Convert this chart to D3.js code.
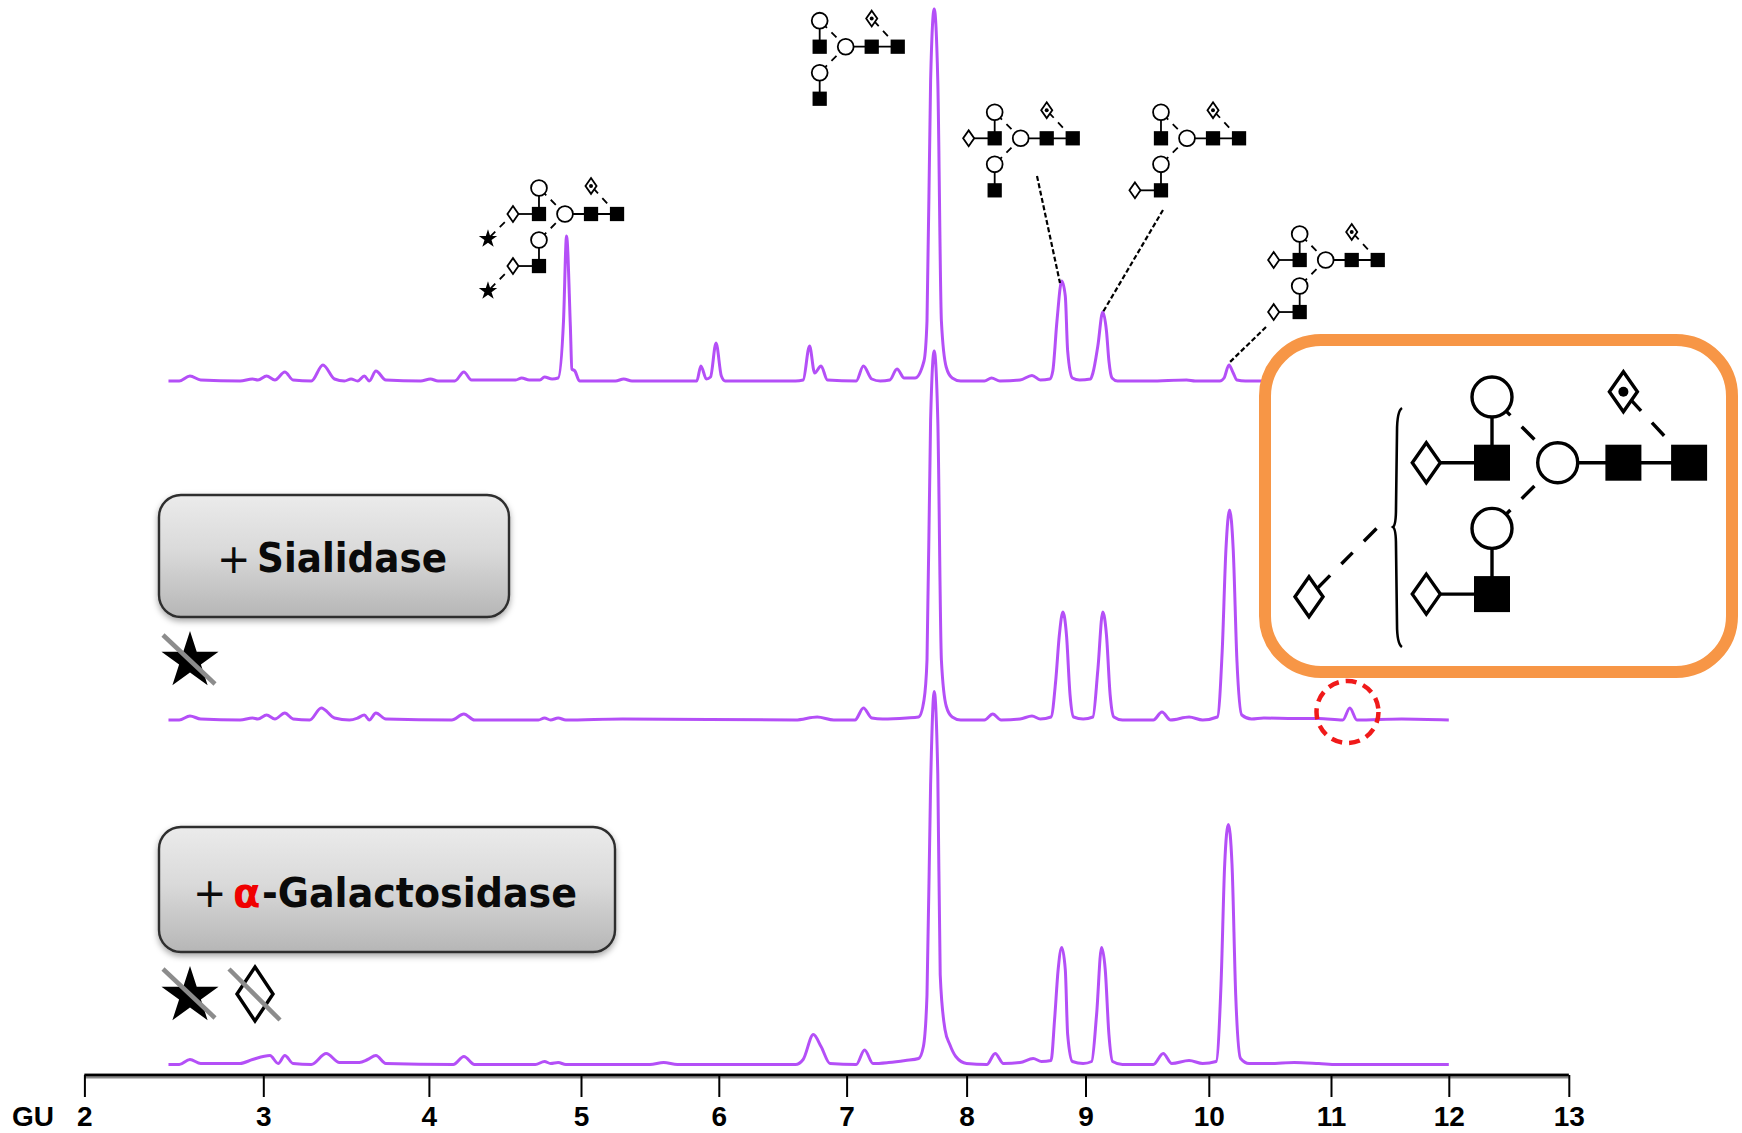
<!DOCTYPE html>
<html>
<head>
<meta charset="utf-8">
<title>GU traces</title>
<script src="https://cdn.jsdelivr.net/npm/d3@7"></script>
<style>
  html, body { margin: 0; background: #fff; }
  svg { display: block; }
  .axis path, .axis line { stroke: #000; }
  .axis text { font: bold 28px "Liberation Sans", sans-serif; fill: #000; }
  .trace { fill: none; stroke: #b450f7; stroke-width: 3; stroke-linejoin: round; }
  .btn-text { font: bold 40px "DejaVu Sans", sans-serif; fill: #0a0a0a; }
</style>
</head>
<body>
<svg id="chart" width="1742" height="1133"></svg>
<script>
// Glucose units on the axis are not evenly spaced
const guTicks = [2, 3, 4, 5, 6, 7, 8, 9, 10, 11, 12, 13];
const guPixels = [84.4, 263.3, 428.9, 581, 718.8, 846.6, 966.6, 1085.5, 1208.8, 1331, 1448.8, 1568.8];
const signalMax = 372;

// Undigested trace
const topGU = [2.47, 2.53, 2.59, 2.65, 2.87, 2.94, 2.97, 3.02, 3.07, 3.13, 3.18, 3.29, 3.36, 3.43, 3.49, 3.53, 3.57, 3.61, 3.64, 3.68, 3.74, 3.95, 4.01, 4.06, 4.17, 4.23, 4.28, 4.57, 4.61, 4.66, 4.73, 4.76, 4.81, 4.85, 4.885, 4.905, 4.93, 4.94, 4.96, 4.99, 5.25, 5.31, 5.37, 5.79, 5.84, 5.87, 5.91, 5.94, 5.98, 6.02, 6.05, 6.6, 6.66, 6.71, 6.75, 6.8, 6.85, 7.08, 7.14, 7.21, 7.28, 7.36, 7.42, 7.48, 7.57, 7.645, 7.67, 7.70, 7.73, 7.76, 7.79, 7.83, 7.88, 7.95, 8.15, 8.21, 8.28, 8.45, 8.55, 8.62, 8.7, 8.725, 8.76, 8.80, 8.83, 8.85, 8.89, 8.95, 9.04, 9.06, 9.10, 9.14, 9.17, 9.19, 9.215, 9.26, 9.52, 9.82, 9.89, 10.09, 10.125, 10.165, 10.2, 10.23, 10.3, 12];
const topSignal = [0, 0, 5, 1, 0, 2, 1, 5, 1, 9, 1, 0, 16, 2, 0, 2, 0, 5, 0, 10, 1, 0, 2, 0, 0, 9, 1, 1, 3, 1, 1, 4, 2, 3, 60, 145, 55, 12, 10, 0, 0, 2, 0, 0, 0, 15, 2, 4, 38, 5, 0, 0, 1, 35, 8, 15, 1, 0, 15, 2, 0, 1, 12, 3, 3, 20, 60, 300, 372, 300, 60, 14, 3, 0, 0, 3, 0, 1, 5.6, 1, 2, 10, 60, 100, 85, 30, 3, 1, 2, 8, 35, 69, 50, 20, 3, 0, 0, 1, 0, 0, 3, 16, 8, 1, 0, 0];

// + Sialidase trace
const midGU = [2.47, 2.53, 2.59, 2.65, 2.87, 2.94, 2.97, 3.02, 3.07, 3.13, 3.18, 3.28, 3.35, 3.43, 3.52, 3.57, 3.61, 3.64, 3.68, 3.74, 4.15, 4.23, 4.3, 4.72, 4.76, 4.8, 4.85, 4.9, 5.3, 6.6, 6.77, 6.9, 7.07, 7.14, 7.21, 7.3, 7.5, 7.6, 7.645, 7.67, 7.70, 7.73, 7.76, 7.79, 7.83, 7.88, 7.95, 8.15, 8.22, 8.29, 8.45, 8.55, 8.62, 8.71, 8.75, 8.78, 8.81, 8.84, 8.87, 8.9, 8.98, 9.06, 9.10, 9.14, 9.17, 9.20, 9.23, 9.3, 9.55, 9.62, 9.69, 9.84, 9.95, 10.07, 10.11, 10.14, 10.17, 10.2, 10.23, 10.27, 10.35, 10.45, 10.7, 10.9, 11.1, 11.16, 11.22, 11.6, 12];
const midSignal = [0, 0, 4, 1, 0, 2, 1, 5, 1, 7, 1, 0, 12, 2, 0, 2, 5, 0, 7, 1, 0, 6, 0, 0, 2, 0, 2, 0, 1, 0, 3, 0, 0, 12, 2, 1, 2, 3, 20, 60, 300, 369, 300, 60, 14, 3, 0, 0, 6, 0, 1, 4, 1, 3, 40, 85, 108, 85, 25, 3, 1, 3, 50, 108, 85, 25, 3, 0, 0, 8, 0, 3, 0, 3, 70, 170, 210, 170, 60, 5, 1, 2, 1.5, 1.5, 0, 12, 0, 1, 0];

// + alpha-Galactosidase trace
const botGU = [2.47, 2.53, 2.59, 2.65, 2.87, 2.94, 3.04, 3.09, 3.13, 3.18, 3.29, 3.38, 3.46, 3.58, 3.63, 3.68, 3.74, 4.16, 4.23, 4.3, 4.7, 4.76, 4.8, 4.85, 4.9, 5.5, 5.6, 5.7, 6.6, 6.66, 6.74, 6.8, 6.87, 7.08, 7.15, 7.22, 7.35, 7.49, 7.6, 7.64, 7.67, 7.70, 7.73, 7.76, 7.78, 7.82, 7.86, 7.91, 8.0, 8.17, 8.24, 8.31, 8.45, 8.56, 8.63, 8.71, 8.74, 8.77, 8.80, 8.83, 8.85, 8.89, 8.98, 9.05, 9.09, 9.13, 9.16, 9.19, 9.22, 9.3, 9.55, 9.63, 9.7, 9.84, 9.95, 10.06, 10.1, 10.13, 10.16, 10.19, 10.22, 10.26, 10.33, 10.5, 10.7, 10.9, 11.05, 12];
const botSignal = [0, 0, 5, 1, 1, 5, 9, 1, 9, 1, 0, 11, 2, 2, 5, 9, 1, 0, 8, 0, 0, 3, 1, 2, 0, 0, 2, 0, 0, 5, 30, 18, 1, 0, 14.5, 1, 2, 4, 6, 18, 70, 280, 373, 290, 90, 35, 20, 8, 1, 0, 11, 1, 2, 6, 3, 4, 45, 95, 117, 95, 30, 3, 1, 3, 50, 117, 95, 30, 3, 0, 0, 11, 1, 4, 1, 3, 80, 200, 240, 200, 70, 6, 1, 1, 2, 1, 0, 0];

const traces = [
  { gu: topGU, signal: topSignal, baseline: 381 },
  { gu: midGU, signal: midSignal, baseline: 720 },
  { gu: botGU, signal: botSignal, baseline: 1064.5 },
];

// Structure cartoons: core mannose position, and which antennae carry what
const glycans = [
  { x: 565, y: 214, upper: true, lower: true, stars: true },
  { x: 845.7, y: 46.7, upper: false, lower: false },
  { x: 1020.7, y: 138.3, upper: true, lower: false },
  { x: 1187, y: 138.3, upper: false, lower: true },
  { x: 1325.7, y: 260, upper: true, lower: true },
];
const leaders = [
  [1037, 176, 1060, 283],
  [1163, 210, 1103, 312],
  [1266, 327, 1230, 362],
];

const svg = d3.select("#chart");
const defs = svg.append("defs");

defs.append("filter").attr("id", "soft")
  .append("feGaussianBlur").attr("stdDeviation", 0.6);

const shadow = defs.append("filter").attr("id", "btn-shadow")
  .attr("x", "-5%").attr("y", "-10%").attr("width", "110%").attr("height", "125%");
shadow.append("feDropShadow")
  .attr("dx", 0).attr("dy", 3).attr("stdDeviation", 3)
  .attr("flood-color", "#000").attr("flood-opacity", 0.35);

const grad = defs.append("linearGradient").attr("id", "btn-fill")
  .attr("x1", 0).attr("y1", 0).attr("x2", 0).attr("y2", 1);
grad.append("stop").attr("offset", "0%").attr("stop-color", "#ebebeb");
grad.append("stop").attr("offset", "45%").attr("stop-color", "#dadada");
grad.append("stop").attr("offset", "100%").attr("stop-color", "#b6b6b6");

const x = d3.scaleLinear().domain(guTicks).range(guPixels);
const y = d3.scaleLinear().domain([0, signalMax]).range([0, -372]);

const line = d3.line().curve(d3.curveMonotoneX);

// Traces
svg.append("g").attr("filter", "url(#soft)")
  .selectAll("path")
  .data(traces)
  .join("path")
  .attr("class", "trace")
  .attr("transform", (d) => `translate(0,${d.baseline})`)
  .attr("d", (d) => line(d.gu.map((g, i) => [x(g), y(d.signal[i])])));

// Axis
const gAxis = svg.append("g").attr("class", "axis")
  .attr("transform", "translate(0,1075)");
gAxis.append("line")
  .attr("x1", x(2)).attr("x2", x(13)).attr("y1", 1).attr("y2", 1)
  .attr("stroke-width", 5).style("stroke", "#8a8a8a");
gAxis.call(d3.axisBottom(x).tickValues(guTicks).tickSize(22).tickPadding(9).tickFormat(d3.format("d")));
gAxis.select(".domain").attr("stroke-width", 2.5).attr("d", `M${x(2)},0H${x(13)}`);
gAxis.selectAll(".tick line").attr("stroke-width", 2);
gAxis.append("text")
  .attr("x", 12).attr("y", 51)
  .style("text-anchor", "start").text("GU");

// Glycan drawing
const diamondPath = (cx, cy, w, h) => `M${cx},${cy - h}L${cx + w},${cy}L${cx},${cy + h}L${cx - w},${cy}Z`;

function drawGlycan(g, cx, cy, s, opts) {
  const u = 65.7 * s;
  const sw = Math.max(3.4 * s, 1.8);
  const px = (a, b) => [cx + a * u, cy + b * u];
  const link = (a, b, dashed) => {
    const l = g.append("line")
      .attr("x1", a[0]).attr("y1", a[1]).attr("x2", b[0]).attr("y2", b[1])
      .attr("stroke", "#000").attr("stroke-width", sw);
    if (dashed) l.attr("stroke-dasharray", `${18 * s} ${16 * s}`).attr("stroke-dashoffset", 26 * s);
  };
  const circle = (p) => g.append("circle").attr("cx", p[0]).attr("cy", p[1]).attr("r", 20 * s)
    .attr("fill", "#fff").attr("stroke", "#000").attr("stroke-width", sw);
  const square = (p) => g.append("rect")
    .attr("x", p[0] - 18 * s).attr("y", p[1] - 18 * s)
    .attr("width", 36 * s).attr("height", 36 * s).attr("fill", "#000");
  const diamond = (p) => g.append("path").attr("d", diamondPath(p[0], p[1], 14 * s, 20 * s))
    .attr("fill", "#fff").attr("stroke", "#000").attr("stroke-width", sw);

  const core = px(0, 0), sq1 = px(1, 0), sq2 = px(2, 0), fuc = px(1, -1.08);
  const upSq = px(-1, 0), upGal = px(-1, -1), loGal = px(-1, 1), loSq = px(-1, 2);
  const upDia = px(-2, 0), loDia = px(-2, 2);

  link(upGal, core, true);
  link(loGal, core, true);
  link(fuc, sq2, true);
  link(core, sq2);
  link(upGal, upSq);
  link(loGal, loSq);
  if (opts.upper) link(upDia, upSq);
  if (opts.lower) link(loDia, loSq);

  if (opts.stars) {
    [[upDia, px(-2.96, 0.96)], [loDia, px(-2.96, 2.96)]].forEach(([d, st]) => {
      link(st, d, true);
      g.append("path")
        .attr("transform", `translate(${st[0]},${st[1]})`)
        .attr("d", d3.symbol(d3.symbolStar, 105)())
        .attr("fill", "#000");
    });
  }

  circle(core); circle(upGal); circle(loGal);
  square(sq1); square(sq2); square(upSq); square(loSq);
  if (opts.upper) diamond(upDia);
  if (opts.lower) diamond(loDia);
  diamond(fuc);
  g.append("circle").attr("cx", fuc[0]).attr("cy", fuc[1]).attr("r", 5 * s).attr("fill", "#000");
}

// Small structures over the peaks
const gSmall = svg.append("g").attr("filter", "url(#soft)");
glycans.forEach((d) => drawGlycan(gSmall, d.x, d.y, 0.396, d));
gSmall.selectAll("line.leader")
  .data(leaders)
  .join("line")
  .attr("class", "leader")
  .attr("x1", (d) => d[0]).attr("y1", (d) => d[1])
  .attr("x2", (d) => d[2]).attr("y2", (d) => d[3])
  .attr("stroke", "#000").attr("stroke-width", 2.2).attr("stroke-dasharray", "5 2.5");

// Inset box
const box = svg.append("g");
box.append("rect")
  .attr("x", 1265).attr("y", 340).attr("width", 467).attr("height", 332).attr("rx", 56)
  .attr("fill", "#fff").attr("stroke", "#f79646").attr("stroke-width", 12);
drawGlycan(box, 1557.7, 462.7, 1, { upper: true, lower: true });
box.append("line")
  .attr("x1", 1309).attr("y1", 596.7).attr("x2", 1378).attr("y2", 527)
  .attr("stroke", "#000").attr("stroke-width", 3.4)
  .attr("stroke-dasharray", "30 16 16 16 18");
box.append("path")
  .attr("d", diamondPath(1309, 596.7, 14, 20))
  .attr("fill", "#fff").attr("stroke", "#000").attr("stroke-width", 3.4);
box.append("path")
  .attr("d", "M1402,408Q1397,411 1397,432L1396,508Q1396,525 1393,527Q1396,529 1396,546L1397,624Q1397,644 1402,647")
  .attr("fill", "none").attr("stroke", "#000").attr("stroke-width", 2.6);

// Red circle around the new peak
svg.append("circle")
  .attr("cx", 1347.5).attr("cy", 712).attr("r", 31)
  .attr("fill", "none").attr("stroke", "#f01a1a").attr("stroke-width", 4.5)
  .attr("stroke-dasharray", "11 7");

// Enzyme buttons
function button(bx, by, bw, bh) {
  return svg.append("rect")
    .attr("x", bx).attr("y", by).attr("width", bw).attr("height", bh).attr("rx", 22)
    .attr("fill", "url(#btn-fill)").attr("stroke", "#2e2e2e").attr("stroke-width", 2.4)
    .attr("filter", "url(#btn-shadow)");
}
function label(tx, ty, str, attrs = {}) {
  const t = svg.append("text").attr("class", "btn-text").attr("x", tx).attr("y", ty).text(str);
  Object.entries(attrs).forEach(([k, v]) => t.style(k, v));
  return t;
}

button(159, 495, 350, 122);
label(217, 573, "+", { "font-weight": "normal" });
label(257, 572, "Sialidase").attr("textLength", 190).attr("lengthAdjust", "spacingAndGlyphs");

button(159, 827, 456, 125);
label(193, 907, "+", { "font-weight": "normal" });
label(233, 907, "α", { fill: "#f00000" });
label(262, 907, "-Galactosidase").attr("textLength", 315).attr("lengthAdjust", "spacingAndGlyphs");

// Removed residues: symbol with a grey strike through it
function struck(path, fill, x1, y1, x2, y2) {
  path.attr("fill", fill);
  svg.append("line")
    .attr("x1", x1).attr("y1", y1).attr("x2", x2).attr("y2", y2)
    .attr("stroke", "#8c8c8c").attr("stroke-width", 4.5);
}
const bigStar = (cy) => svg.append("path")
  .attr("transform", `translate(190,${cy})`)
  .attr("d", d3.symbol(d3.symbolStar, 1010)());

struck(bigStar(661), "#000", 163, 635, 215, 684);
struck(bigStar(996), "#000", 163, 969, 215, 1018);
struck(svg.append("path").attr("d", diamondPath(255, 994, 18, 27)).attr("stroke", "#000").attr("stroke-width", 3.4),
  "none", 229, 969, 280, 1020);
</script>
</body>
</html>
